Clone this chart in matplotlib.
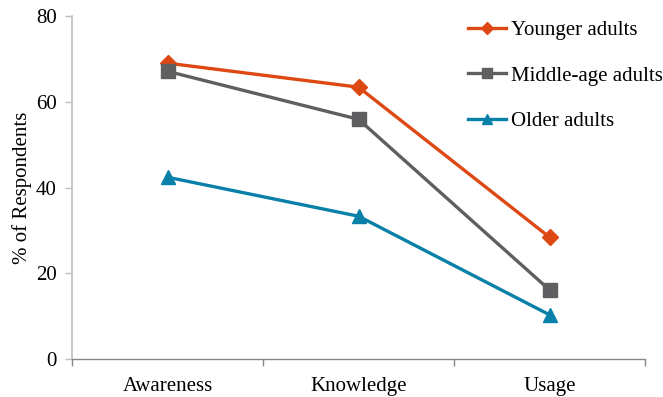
import matplotlib
matplotlib.use("Agg")
import matplotlib.pyplot as plt

plt.rcParams['font.family'] = ['Liberation Serif', 'DejaVu Serif']

# 数据
categories = ["Awareness", "Knowledge", "Usage"]
younger = [69.0, 63.4, 28.4]
middle = [67.1, 55.9, 16.1]
older = [42.4, 33.3, 10.3]

fig = plt.figure(figsize=(6.63, 3.97), dpi=100)
ax = fig.add_axes([0.1086, 0.0957, 0.8644, 0.864])

x = range(len(categories))
ax.plot(x, younger, color='#DD4814', lw=2.4, marker='D', ms=8.5, label='Younger adults')
ax.plot(x, middle, color='#5F5F61', lw=2.4, marker='s', ms=10, label='Middle-age adults')
ax.plot(x, older, color='#0880A8', lw=2.4, marker='^', ms=10, label='Older adults')

ax.set_xlim(-0.5, 2.5)
ax.set_ylim(0, 80)
ax.set_yticks([0, 20, 40, 60, 80])
ax.set_xticks(list(x))
ax.set_xticklabels(categories)
ax.set_xticks([-0.5, 0.5, 1.5, 2.5], minor=True)
ax.tick_params(axis='x', which='major', length=0, pad=13, labelsize=15)
ax.tick_params(axis='x', which='minor', length=5, color='#868686', width=1)
ax.tick_params(axis='y', length=5, color='#BFBFBF', width=1, labelsize=15, pad=6)

for s in ['top', 'right']:
    ax.spines[s].set_visible(False)
ax.spines['left'].set_color('#BFBFBF')
ax.spines['left'].set_linewidth(1.2)
ax.spines['bottom'].set_color('#868686')
ax.spines['bottom'].set_linewidth(1.0)

ax.set_ylabel('% of Respondents', fontsize=15, labelpad=3)

ax.legend(loc='upper left', bbox_to_anchor=(468 / 663, 0.948), bbox_transform=fig.transFigure,
          frameon=False, fontsize=15, handlelength=1.8, handletextpad=0.25,
          labelspacing=1.24, borderpad=0, borderaxespad=0, markerscale=0.75)

fig.savefig('out.png', dpi=100)
